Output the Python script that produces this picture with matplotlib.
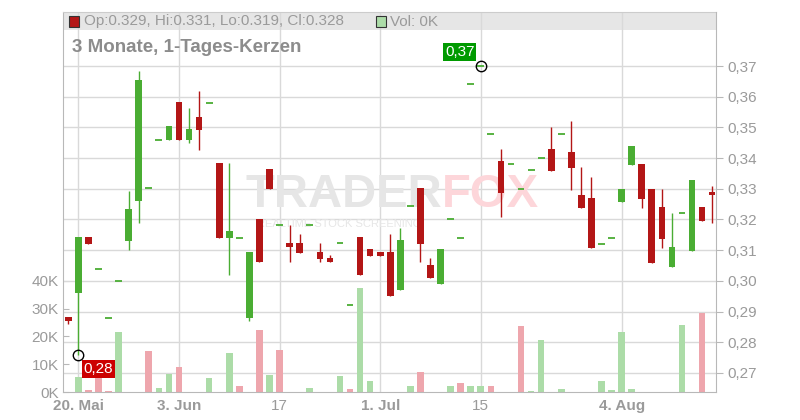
import numpy as np
import pandas as pd
import matplotlib
matplotlib.use('Agg')
import matplotlib.pyplot as plt
from matplotlib.lines import Line2D
from matplotlib.patches import Rectangle
from matplotlib.transforms import blended_transform_factory

plt.rcParams['font.family'] = ['Liberation Sans', 'DejaVu Sans']

# trading days shown (19 May - 15 Aug 2025)
dates = pd.bdate_range('2025-05-19', '2025-08-15')

opens = [0.2883, 0.2961, 0.3142, 0.3040, 0.2880, 0.3001, 0.3130, 0.3260, 0.3301, 0.3460,
         0.3460, 0.3582, 0.3460, 0.3533, 0.3581, 0.3383, 0.3140, 0.3141, 0.2879, 0.3201,
         0.3364, 0.3181, 0.3123, 0.3123, 0.3181, 0.3093, 0.3074, 0.3122, 0.2923, 0.3142,
         0.3103, 0.3093, 0.3093, 0.2971, 0.3243, 0.3302, 0.3051, 0.2990, 0.3200, 0.3141,
         0.3640, 0.3700, 0.3477, 0.3391, 0.3380, 0.3298, 0.3360, 0.3399, 0.3430, 0.3477,
         0.3420, 0.3280, 0.3270, 0.3119, 0.3139, 0.3258, 0.3379, 0.3381, 0.3299, 0.3241,
         0.3046, 0.3220, 0.3098, 0.3241, 0.3290]
highs = [0.2883, 0.3142, 0.3142, 0.3040, 0.2880, 0.3001, 0.3292, 0.3684, 0.3301, 0.3460,
         0.3504, 0.3582, 0.3562, 0.3619, 0.3581, 0.3383, 0.3383, 0.3141, 0.3093, 0.3201,
         0.3364, 0.3181, 0.3181, 0.3152, 0.3181, 0.3123, 0.3083, 0.3122, 0.2923, 0.3142,
         0.3103, 0.3093, 0.3152, 0.3171, 0.3243, 0.3302, 0.3074, 0.3103, 0.3200, 0.3141,
         0.3640, 0.3700, 0.3477, 0.3430, 0.3380, 0.3298, 0.3360, 0.3399, 0.3501, 0.3477,
         0.3521, 0.3371, 0.3338, 0.3119, 0.3139, 0.3299, 0.3439, 0.3381, 0.3299, 0.3299,
         0.3221, 0.3220, 0.3329, 0.3241, 0.3310]
lows = [0.2859, 0.2759, 0.3120, 0.3040, 0.2880, 0.3001, 0.3101, 0.3189, 0.3301, 0.3460,
        0.3460, 0.3460, 0.3449, 0.3428, 0.3581, 0.3140, 0.3019, 0.3141, 0.2870, 0.3062,
        0.3300, 0.3181, 0.3062, 0.3091, 0.3181, 0.3062, 0.3062, 0.3122, 0.2923, 0.3019,
        0.3081, 0.3081, 0.2951, 0.2971, 0.3243, 0.3062, 0.3010, 0.2990, 0.3200, 0.3141,
        0.3640, 0.3700, 0.3477, 0.3209, 0.3380, 0.3298, 0.3360, 0.3399, 0.3359, 0.3477,
        0.3297, 0.3239, 0.3108, 0.3119, 0.3139, 0.3258, 0.3379, 0.3239, 0.3059, 0.3108,
        0.3046, 0.3220, 0.3098, 0.3195, 0.3190]
closes = [0.2870, 0.3142, 0.3120, 0.3040, 0.2880, 0.3001, 0.3233, 0.3654, 0.3301, 0.3460,
          0.3504, 0.3460, 0.3494, 0.3492, 0.3581, 0.3140, 0.3162, 0.3141, 0.3093, 0.3062,
          0.3300, 0.3181, 0.3111, 0.3091, 0.3181, 0.3071, 0.3062, 0.3122, 0.2923, 0.3019,
          0.3081, 0.3081, 0.2951, 0.3132, 0.3243, 0.3120, 0.3010, 0.3103, 0.3200, 0.3141,
          0.3640, 0.3700, 0.3477, 0.3287, 0.3380, 0.3298, 0.3360, 0.3399, 0.3359, 0.3477,
          0.3369, 0.3239, 0.3108, 0.3119, 0.3139, 0.3299, 0.3439, 0.3268, 0.3059, 0.3138,
          0.3110, 0.3220, 0.3329, 0.3195, 0.3280]
volumes = [0, 5500, 800, 7000, 400, 21600, 0, 0, 14800, 1500,
           6600, 9100, 0, 0, 5100, 0, 14100, 2300, 0, 22300,
           6200, 15200, 0, 0, 1500, 0, 0, 5800, 1100, 37400,
           4100, 0, 0, 0, 2300, 7300, 0, 0, 2300, 3300,
           2300, 2300, 2300, 0, 0, 23800, 400, 18700, 0, 1100,
           0, 0, 0, 4100, 800, 21600, 1100, 0, 0, 0,
           0, 24100, 0, 28500, 0]

tick_dates = ['2025-05-20', '2025-06-03', '2025-06-17', '2025-07-01', '2025-07-15', '2025-08-04']
tick_labels = ['20. Mai', '3. Jun', '17', '1. Jul', '15', '4. Aug']
tick_bold = [True, True, False, True, False, True]
price_ticks = [0.27, 0.28, 0.29, 0.30, 0.31, 0.32, 0.33, 0.34, 0.35, 0.36, 0.37]
vol_ticks = [0, 10000, 20000, 30000, 40000]

UP, DOWN = '#4aad33', '#b31616'
VOL_UP, VOL_DOWN = '#acdca8', '#eea6ad'
GRID = '#d9d9d9'
TXT = '#9a9a9a'
AXIS = '#b8b8b8'

x = np.arange(len(dates))
o, h, l, c = map(np.array, (opens, highs, lows, closes))
vol = np.array(volumes)

fig = plt.figure(figsize=(8, 4.2), dpi=100)
ax_v = fig.add_axes([63 / 800, 27.7 / 420, 653 / 800, 380.6 / 420])
ax_p = ax_v.twinx()
ax_v.set_xlim(-0.53, 64.38)
ax_v.set_ylim(0, 136400)
ax_p.set_ylim(0.26371, 0.38769)

# header band
band = 18.3 / 380.6
ax_v.add_patch(Rectangle((0, 1 - band), 1, band, transform=ax_v.transAxes,
                         facecolor='#e6e6e6', edgecolor='none', zorder=0.2))

# grid
ax_v.set_axisbelow(True)
tick_pos = [dates.get_loc(pd.Timestamp(d)) for d in tick_dates]
ax_v.set_xticks(tick_pos, tick_labels)
ax_v.grid(axis='x', color=GRID, lw=1)
tr = blended_transform_factory(ax_v.transAxes, ax_p.transData)
for p in price_ticks:
    ax_v.add_line(Line2D([0, 1], [p, p], transform=tr, color=GRID, lw=1, zorder=0.6))

# watermark
ax_v.text(442 / 800, 1 - 207 / 420, 'TRADER', transform=fig.transFigure, ha='right', va='baseline',
          fontsize=34, weight='bold', color='#e6e6e6', zorder=0.7)
ax_v.text(442 / 800, 1 - 207 / 420, 'FOX', transform=fig.transFigure, ha='left', va='baseline',
          fontsize=34, weight='bold', color='#fdd6da', zorder=0.7)
ax_v.text(339 / 800, 1 - 227 / 420, 'REALTIME STOCK SCREENING', transform=fig.transFigure,
          ha='center', va='baseline', fontsize=8, color='#e6e6e6', zorder=0.7)

# volume
prev = np.r_[c[0], c[:-1]]
vcol = np.where(c >= prev, VOL_UP, VOL_DOWN)
ax_v.bar(x, vol, width=0.66, color=vcol, zorder=2)

# candles
col = np.where(c >= o, UP, DOWN)
flat = h == l
body = ~flat
ax_p.vlines(x[body], l[body], h[body], colors=col[body], lw=1, zorder=3)
ax_p.bar(x[body], np.abs(c - o)[body], bottom=np.minimum(o, c)[body], width=0.66,
         color=col[body], zorder=4)
ax_p.hlines(c[flat], x[flat] - 0.34, x[flat] + 0.34, colors=UP, lw=1.3, zorder=4)

# high / low markers
i_hi, i_lo = int(np.argmax(h)), int(np.argmin(l))
ax_p.plot([x[i_hi], x[i_lo]], [h[i_hi], l[i_lo]], 'o', mfc='none', mec='black', ms=7.5, mew=1, zorder=6)
ax_p.annotate(f'{h[i_hi]:.2f}'.replace('.', ','), xy=(x[i_hi], h[i_hi]), xytext=(-21, 14),
              textcoords='offset pixels', ha='center', va='center', color='white', fontsize=11,
              bbox=dict(boxstyle='square,pad=0.12', fc='#009a00', ec='none'), zorder=7)
ax_p.annotate(f'{l[i_lo]:.2f}'.replace('.', ','), xy=(x[i_lo], l[i_lo]), xytext=(20, -14),
              textcoords='offset pixels', ha='center', va='center', color='white', fontsize=11,
              bbox=dict(boxstyle='square,pad=0.12', fc='#cc0000', ec='none'), zorder=7)

# axes styling
ax_p.set_yticks(price_ticks, [f'{p:.2f}'.replace('.', ',') for p in price_ticks])
ax_p.tick_params(axis='y', labelsize=11, labelcolor=TXT, color=AXIS, length=5, pad=3)
ax_v.set_yticks(vol_ticks, [f'{v // 1000}K' for v in vol_ticks])
ax_v.tick_params(axis='y', direction='in', labelsize=11, labelcolor=TXT, color=AXIS, length=4, pad=3)
ax_v.tick_params(axis='x', length=0, labelsize=11, labelcolor=TXT, pad=5)
for lab, b in zip(ax_v.get_xticklabels(), tick_bold):
    lab.set_fontweight('bold' if b else 'normal')
for ax in (ax_v, ax_p):
    for s in ax.spines.values():
        s.set_color(AXIS)
ax_v.spines['top'].set_color('#cccccc')
ax_v.spines['right'].set_visible(False)
for s in ('left', 'top', 'bottom'):
    ax_p.spines[s].set_visible(False)

# header texts
fig.add_artist(Rectangle((68.5 / 800, 1 - 26.5 / 420), 10 / 800, 10 / 420, transform=fig.transFigure,
                         fc=DOWN, ec='#333333', lw=0.8))
fig.text(84 / 800, 1 - 21.5 / 420, f'Op:{o[-1]:.3f}, Hi:{h[-1]:.3f}, Lo:{l[-1]:.3f}, Cl:{c[-1]:.3f}',
         fontsize=11, color=TXT, va='center', ha='left')
fig.add_artist(Rectangle((375.5 / 800, 1 - 26.5 / 420), 10 / 800, 10 / 420, transform=fig.transFigure,
                         fc=VOL_UP, ec='#333333', lw=0.8))
fig.text(390 / 800, 1 - 21.5 / 420, f'Vol: {vol[-1] // 1000}K', fontsize=11, color=TXT, va='center', ha='left')
fig.text(72 / 800, 1 - 48 / 420, '3 Monate, 1-Tages-Kerzen', fontsize=13.5, weight='bold',
         color='#8c8c8c', va='center', ha='left')

fig.savefig('out.png', dpi=100)
